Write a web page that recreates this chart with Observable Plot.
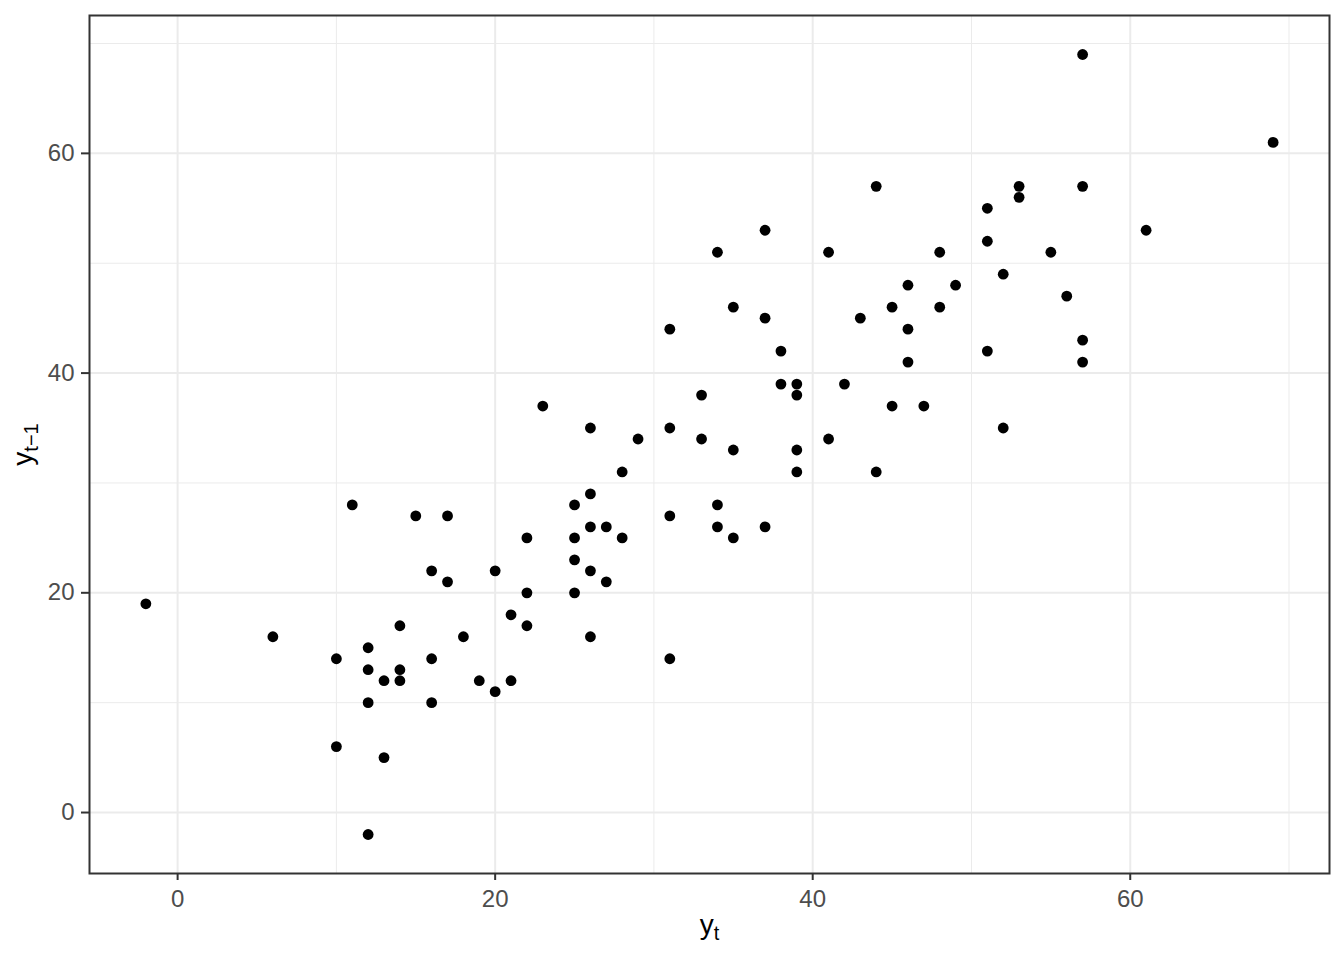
<!DOCTYPE html>
<html><head><meta charset="utf-8">
<script src="https://cdn.jsdelivr.net/npm/d3@7"></script>
<script src="https://cdn.jsdelivr.net/npm/@observablehq/plot@0.6"></script>
<style>body{margin:0;background:#fff}</style>
</head><body><div id="chart"></div>
<script>
// y_t (x axis) and y_{t-1} (y axis)
const yt = [-2,6,10,10,11,12,12,12,12,13,13,14,14,14,15,16,16,16,17,17,18,19,20,20,21,21,22,22,22,23,25,25,25,25,26,26,26,26,26,27,27,28,28,29,31,31,31,31,33,33,34,34,34,35,35,35,37,37,37,38,38,39,39,39,39,41,41,42,43,44,44,45,45,46,46,46,47,48,48,49,51,51,51,52,52,53,53,55,56,57,57,57,57,61,69];
const ytLag = [19,16,14,6,28,15,13,10,-2,12,5,17,13,12,27,22,14,10,27,21,16,12,22,11,18,12,25,20,17,37,28,25,23,20,35,29,26,22,16,26,21,31,25,34,44,35,27,14,38,34,51,28,26,46,33,25,53,45,26,42,39,39,38,33,31,51,34,39,45,57,31,46,37,48,44,41,37,51,46,48,55,52,42,49,35,57,56,51,47,69,57,43,41,53,61];
const xTicks = [0, 20, 40, 60];
const yTicks = [0, 20, 40, 60];
const xMinor = [10, 30, 50, 70];
const yMinor = [10, 30, 50, 70];
const xTitle = ["y", "t"];
const yTitle = ["y", "t\u22121"];

const data = yt.map((v, i) => ({x: v, y: ytLag[i]}));
const ext = (a) => { const [lo, hi] = d3.extent(a); const p = (hi - lo) * 0.05; return [lo - p, hi + p]; };

const font = "'Liberation Sans', Arial, sans-serif";
const plot = Plot.plot({
  width: 1344, height: 960,
  marginLeft: 89, marginRight: 15, marginTop: 15, marginBottom: 87,
  style: {background: "#fff", fontFamily: font, color: "#000"},
  x: {domain: ext(yt)},
  y: {domain: ext(ytLag)},
  marks: [
    Plot.gridX(xMinor, {stroke: "#EBEBEB", strokeOpacity: 1, strokeWidth: 1}),
    Plot.gridY(yMinor, {stroke: "#EBEBEB", strokeOpacity: 1, strokeWidth: 1}),
    Plot.gridX(xTicks, {stroke: "#EBEBEB", strokeOpacity: 1, strokeWidth: 2}),
    Plot.gridY(yTicks, {stroke: "#EBEBEB", strokeOpacity: 1, strokeWidth: 2}),
    Plot.dot(data, {x: "x", y: "y", r: 5.4, fill: "#000", stroke: null}),
    Plot.frame({stroke: "#333333", strokeWidth: 2}),
    Plot.axisX(xTicks, {tickSize: 7, tickPadding: 9, strokeWidth: 2, stroke: "#333333", fill: "#4D4D4D", fontSize: 24, label: null}),
    Plot.axisY(yTicks, {tickSize: 8, tickPadding: 7, strokeWidth: 2, stroke: "#333333", fill: "#4D4D4D", fontSize: 24, label: null}),
    Plot.text(["__XT__"], {frameAnchor: "bottom", lineAnchor: "middle", textAnchor: "middle", dy: 52, fontSize: 28, fill: "#000"}),
    Plot.text(["__YT__"], {frameAnchor: "left", lineAnchor: "middle", textAnchor: "middle", dx: -66, rotate: -90, fontSize: 28, fill: "#000"})
  ]
});

function sub(el, parts) {
  el.textContent = "";
  const ns = "http://www.w3.org/2000/svg";
  const a = document.createElementNS(ns, "tspan");
  a.textContent = parts[0];
  const b = document.createElementNS(ns, "tspan");
  b.textContent = parts[1];
  b.setAttribute("font-size", "20");
  b.setAttribute("dy", "6");
  el.appendChild(a); el.appendChild(b);
}
plot.querySelectorAll("text").forEach(t => {
  if (t.textContent === "__XT__") sub(t, xTitle);
  else if (t.textContent === "__YT__") sub(t, yTitle);
});
document.getElementById("chart").appendChild(plot);
</script>
</body></html>
